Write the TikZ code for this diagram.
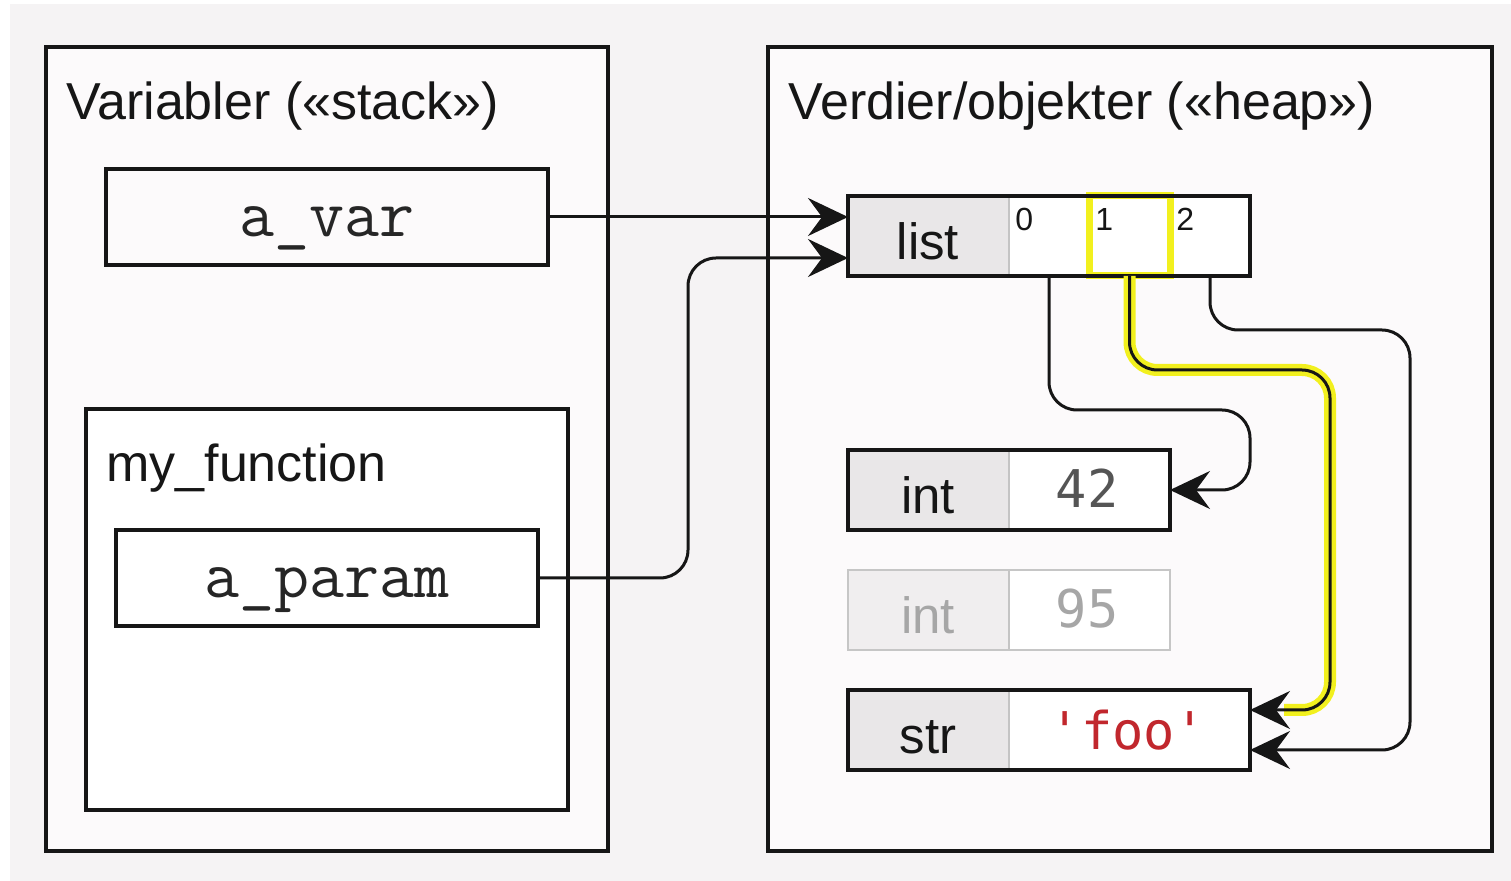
\documentclass[tikz,border=0pt]{standalone}
\usepackage{fontspec}
\setmainfont{Liberation Sans}
\newfontfamily\valfont{DejaVu Sans Mono}
\usetikzlibrary{arrows.meta}
\definecolor{bgout}{HTML}{F5F3F4}
\definecolor{bgin}{HTML}{FCFAFB}
\definecolor{ink}{HTML}{161616}
\definecolor{codeink}{HTML}{262626}
\definecolor{typefill}{HTML}{E9E7E8}
\definecolor{divc}{HTML}{C4C4C4}
\definecolor{hl}{HTML}{F2F01E}
\definecolor{strred}{HTML}{C1272D}
\definecolor{numgray}{HTML}{555555}
\definecolor{faint}{HTML}{C6C6C6}
\definecolor{fainttext}{HTML}{A6A6A6}
\definecolor{faintfill}{HTML}{F0EEEF}
\begin{document}
\begin{tikzpicture}[x=0.5pt,y=-0.5pt,
  frame/.style={draw=ink, line width=1.6pt, inner sep=0pt, outer sep=0pt, anchor=north west},
  plain/.style={inner sep=0pt, outer sep=0pt, anchor=north west},
  title/.style={font=\fontsize{26}{30}\selectfont, text=ink, anchor=base west, inner sep=0pt},
  varname/.style={font=\ttfamily\fontsize{34}{40}\selectfont, text=codeink, anchor=base, inner sep=0pt},
  typelbl/.style={font=\fontsize{25.5}{30}\selectfont, text=ink, anchor=base, inner sep=0pt},
  vallbl/.style={font=\valfont\fontsize{26}{30}\selectfont, anchor=base, inner sep=0pt},
  idx/.style={font=\fontsize{16}{20}\selectfont, text=ink, anchor=base west, inner sep=0pt},
  arr/.style={draw=ink, line width=1.5pt, rounded corners=14pt, -{Stealth[length=20pt,width=19pt,inset=7pt]}},
  glow/.style={draw=hl, line width=6pt, rounded corners=14pt},
  divider/.style={draw=divc, line width=1pt},
]
\useasboundingbox (0,0) rectangle (1511,881);
\fill[white] (0,0) rectangle (1511,881);
\fill[bgout] (10,4) rectangle (1511,881);

% stack side
\node[frame, fill=bgin, minimum width=281pt, minimum height=402pt] (stack) at (46,47) {};
\node[title] (stacktitle) at (66,120) {Variabler («stack»)};
\node[frame, fill=bgin, minimum width=221pt, minimum height=48pt] (avar) at (106,169) {};
\node[varname] (avartext) at ([yshift=-10pt]avar.center) {a\_var};
\node[frame, fill=white, minimum width=241pt, minimum height=200.5pt] (myfn) at (86,409) {};
\node[title] (myfntitle) at (106,482) {my\_function};
\node[frame, fill=white, minimum width=211pt, minimum height=48pt] (aparam) at (116,530) {};
\node[varname] (aparamtext) at ([yshift=-10pt]aparam.center) {a\_param};

% heap side
\node[frame, fill=bgin, minimum width=362pt, minimum height=402pt] (heap) at (768,47) {};
\node[title] (heaptitle) at (788,120) {Verdier/objekter («heap»)};

% list object
\node[frame, fill=white, minimum width=201pt, minimum height=40pt] (list) at (848,196) {};
\node[plain, fill=typefill, minimum width=80.5pt, minimum height=40pt] (listT) at (848,196) {};
\draw[divider] (listT.north east) -- (listT.south east);
\node[plain, minimum width=40pt, minimum height=40pt] (c0) at (1009,196) {};
\node[plain, minimum width=40.5pt, minimum height=40pt] (c1) at (1089,196) {};
\node[plain, minimum width=40pt, minimum height=40pt] (c2) at (1170,196) {};
\draw[hl, line width=3.5pt] (c1.north west) rectangle (c1.south east);
\draw[ink, line width=1.6pt] (list.north west) rectangle (list.south east);
\node[typelbl] (listlbl) at (928,260) {list};
\node[idx] (i0) at (1015,231) {0};
\node[idx] (i1) at (1095,231) {1};
\node[idx] (i2) at (1176,231) {2};

% int 42
\node[frame, fill=white, minimum width=161pt, minimum height=40pt] (i42) at (848,450) {};
\node[plain, fill=typefill, minimum width=80.5pt, minimum height=40pt] (i42T) at (848,450) {};
\draw[divider] (i42T.north east) -- (i42T.south east);
\draw[ink, line width=1.6pt] (i42.north west) rectangle (i42.south east);
\node[typelbl] (i42lbl) at (928,514) {int};
\node[vallbl, text=numgray] (i42val) at (1087,508) {42};

% int 95 (faint)
\node[frame, draw=faint, line width=1pt, fill=white, minimum width=161pt, minimum height=40pt] (i95) at (848,570) {};
\node[plain, fill=faintfill, minimum width=80.5pt, minimum height=40pt] (i95T) at (848,570) {};
\draw[divider] (i95T.north east) -- (i95T.south east);
\draw[faint, line width=1pt] (i95.north west) rectangle (i95.south east);
\node[typelbl, text=fainttext] (i95lbl) at (928,634) {int};
\node[vallbl, text=fainttext] (i95val) at (1087,628) {95};

% str 'foo'
\node[frame, fill=white, minimum width=201pt, minimum height=40pt] (str) at (848,690) {};
\node[plain, fill=typefill, minimum width=80.5pt, minimum height=40pt] (strT) at (848,690) {};
\draw[divider] (strT.north east) -- (strT.south east);
\draw[ink, line width=1.6pt] (str.north west) rectangle (str.south east);
\node[typelbl] (strlbl) at (928,754) {str};
\node[vallbl, text=strred] (strval) at (1128,750) {'foo'};

% connectors
\coordinate (pbend) at (688,258);
\coordinate (q0) at (1250,410);
\coordinate (q1) at (1330,370);
\coordinate (q2) at (1410,330);
\draw[arr] (avar.east) -- (avar.east -| list.west);
\draw[arr] (aparam.east) -| (pbend) -- (pbend -| list.west);
\draw[arr] (c0.south) |- (q0) |- (i42.east);
\draw[glow] (c1.south) |- (q1) |- ([xshift=17pt,yshift=10pt]str.east);
\draw[arr] (c1.south) |- (q1) |- ([yshift=10pt]str.east);
\draw[arr] (c2.south) |- (q2) |- ([yshift=-10pt]str.east);
\end{tikzpicture}
\end{document}
